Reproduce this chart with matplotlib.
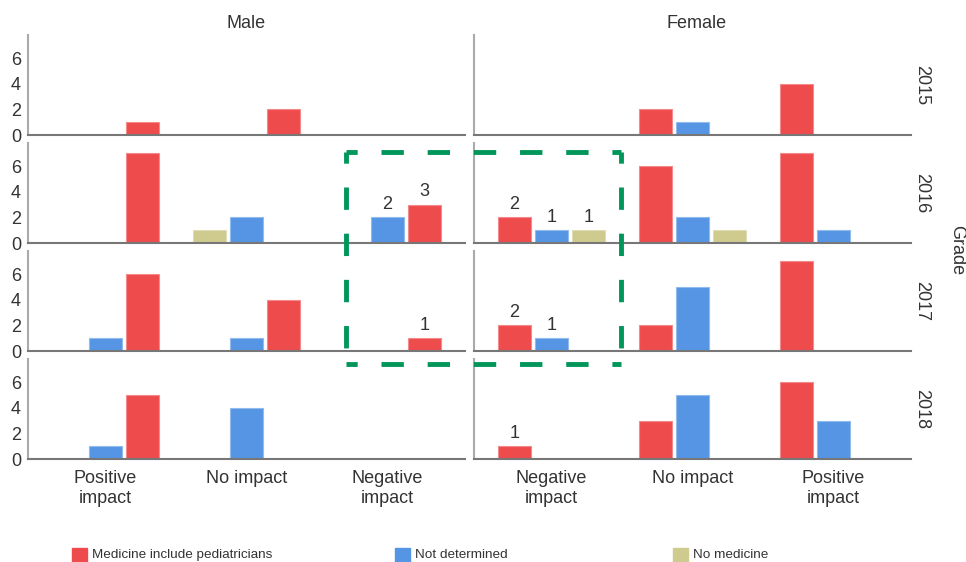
import matplotlib
matplotlib.use("Agg")
from matplotlib import pyplot as plt
from matplotlib.patches import Rectangle
from matplotlib.lines import Line2D
import numpy as np

plt.rcParams['font.family'] = ['Liberation Sans', 'DejaVu Sans']

sexes = ["Male", "Female"]
years = ["2015", "2016", "2017", "2018"]
categories = ["Negative\nimpact", "No impact", "Positive\nimpact"]
series = ["Medicine include pediatricians", "Not determined", "No medicine"]
colors = ["#EE4B4D", "#5595E3", "#CFCA8E"]

# one row per year, values in order: negative, no impact, positive
male_medicine = [[0, 2, 1], [3, 0, 7], [1, 4, 6], [0, 0, 5]]
male_not_determined = [[0, 0, 0], [2, 2, 0], [0, 1, 1], [0, 4, 1]]
male_no_medicine = [[0, 0, 0], [0, 1, 0], [0, 0, 0], [0, 0, 0]]
female_medicine = [[0, 2, 4], [2, 6, 7], [2, 2, 7], [1, 3, 6]]
female_not_determined = [[0, 1, 0], [1, 2, 1], [1, 5, 0], [0, 5, 3]]
female_no_medicine = [[0, 0, 0], [1, 1, 0], [0, 0, 0], [0, 0, 0]]

data = {
    "Male": [male_medicine, male_not_determined, male_no_medicine],
    "Female": [female_medicine, female_not_determined, female_no_medicine],
}

W, H = 966, 562
fig = plt.figure(figsize=(W / 100, H / 100), dpi=100)

def fx(px):
    return px / W

def fy(py):
    return 1 - py / H

col_left = {"Male": 28, "Female": 474}
col_width = 437
baselines = [135, 243, 351, 459]
row_h = 100
text_color = "#333333"

def lighten(c, amt=0.35):
    rgb = np.array(matplotlib.colors.to_rgb(c))
    return tuple(rgb + (1 - rgb) * amt)

x = np.arange(len(categories))
width = 0.234
offsets = [-0.262, 0, 0.262]

for sex in sexes:
    for r, year in enumerate(years):
        ax = fig.add_axes([fx(col_left[sex]), fy(baselines[r]), fx(col_width), row_h / H])
        for s in range(len(series)):
            vals = data[sex][s][r]
            bars = ax.bar(x + offsets[s], vals, width, color=colors[s],
                          edgecolor=lighten(colors[s]), linewidth=0.8)
            # counts written only in the highlighted "negative impact" group
            for b, v in zip(bars[:1], vals[:1]):
                if v > 0:
                    ax.annotate(str(v), (b.get_x() + b.get_width() / 2, v),
                                xytext=(0, 3), textcoords="offset points",
                                ha="center", va="bottom", fontsize=13, color=text_color)
        ax.set_ylim(0, 7.8)
        if sex == "Male":
            ax.set_xlim(2.55, -0.55)
        else:
            ax.set_xlim(-0.55, 2.55)
        for sp in ["top", "right"]:
            ax.spines[sp].set_visible(False)
        ax.spines["left"].set_color("#aaaaaa")
        ax.spines["left"].set_linewidth(1.5)
        ax.spines["bottom"].set_color("#777777")
        ax.spines["bottom"].set_linewidth(1.5)
        ax.set_yticks([0, 2, 4, 6])
        ax.tick_params(length=0, labelsize=13, labelcolor=text_color, pad=5)
        if sex != "Male":
            ax.tick_params(labelleft=False)
        ax.set_xticks(x)
        if r == len(years) - 1:
            ax.set_xticklabels(categories, linespacing=1.2)
            ax.tick_params(axis="x", pad=8)
        else:
            ax.set_xticklabels([])
        ax.patch.set_alpha(0)
        if sex == "Female":
            fig.text(fx(922), fy(baselines[r] - row_h / 2), year, rotation=270,
                     ha="center", va="center", fontsize=13, color=text_color)

fig.text(fx(246), fy(24), "Male", ha="center", va="center", fontsize=13, color=text_color)
fig.text(fx(697), fy(24), "Female", ha="center", va="center", fontsize=13, color=text_color)
fig.text(fx(957), fy(250), "Grade", rotation=270, ha="center", va="center",
         fontsize=13, color=text_color)

# dashed highlight box
bx0, by0, bx1, by1 = 346, 152, 621, 364
green = "#00965A"
for (xa, ya), (xb, yb) in [((bx0, by0), (bx1, by0)), ((bx0, by0), (bx0, by1)),
                           ((bx1, by0), (bx1, by1)), ((bx0, by1), (bx1, by1))]:
    fig.add_artist(Line2D([fx(xa), fx(xb)], [fy(ya), fy(yb)], transform=fig.transFigure,
                          color=green, lw=3.5, linestyle=(2.3, (4.6, 4.9)),
                          solid_capstyle="butt", dash_capstyle="butt"))

# legend along the bottom edge
legend_x = [72, 395, 673]
for s in range(len(series)):
    fig.add_artist(Rectangle((fx(legend_x[s]), fy(562)), fx(15), 14 / H,
                             transform=fig.transFigure, color=colors[s]))
    fig.text(fx(legend_x[s] + 20), fy(558), series[s], ha="left", va="baseline",
             fontsize=9.7, color=text_color)

fig.savefig("out.png", dpi=100)
